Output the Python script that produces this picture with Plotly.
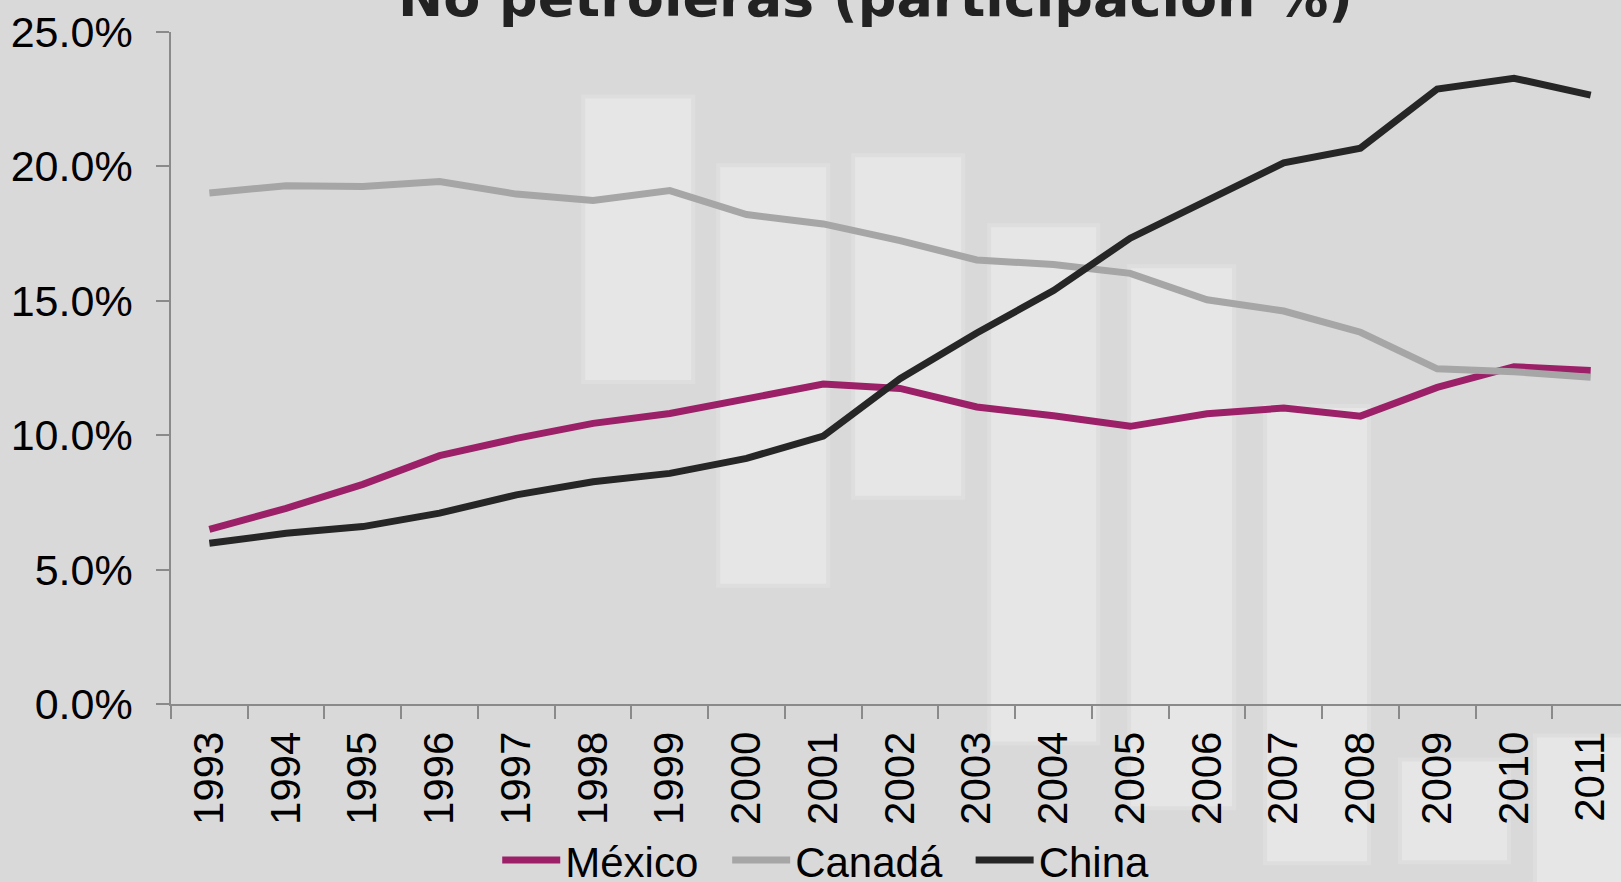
import plotly.graph_objects as go

years = [str(y) for y in range(1993, 2012)]
mexico = [6.5, 7.28, 8.17, 9.24, 9.88, 10.44, 10.81, 11.37, 11.9, 11.74, 11.05, 10.72, 10.33, 10.8, 11.01, 10.71, 11.78, 12.55, 12.41]
canada = [19.01, 19.28, 19.25, 19.44, 18.97, 18.73, 19.1, 18.21, 17.86, 17.24, 16.52, 16.35, 16.02, 15.04, 14.62, 13.83, 12.47, 12.36, 12.16]
china = [5.98, 6.35, 6.6, 7.1, 7.78, 8.27, 8.58, 9.14, 9.97, 12.1, 13.8, 15.38, 17.33, 18.7, 20.13, 20.68, 22.88, 23.28, 22.65]

series_names = ["México", "Canadá", "China"]
series_colors = ["#9B2068", "#A6A6A6", "#262626"]
title_text = "No petroleras (participación %)"

W, H = 1621, 882
L, T, R, B = 170.7, 31.5, 1621.0, 704.5

def px(X):
    return (X - L) / (R - L)

def py(Y):
    return (B - Y) / (B - T)

fig = go.Figure()
legends = ["legend", "legend2", "legend3"]
for name, vals, col, lg in zip(series_names, [mexico, canada, china], series_colors, legends):
    fig.add_trace(go.Scatter(x=years, y=vals, name=name, mode="lines",
                             line=dict(color=col, width=7), legend=lg))

# decorative background panels (page pixels)
panels = [
    (585, 98, 691, 380), (720, 167, 826, 584), (855, 157, 961, 496),
    (991, 227, 1096, 742), (1131, 268, 1232, 807), (1267, 408, 1367, 862),
    (1402, 762, 1507, 861), (1537, 738, 1650, 900),
]
shapes = []
for (x0, y0, x1, y1) in panels:
    shapes.append(dict(type="rect", xref="paper", yref="paper", layer="below",
                       x0=px(x0 - 4), x1=px(x1 + 4), y0=py(y1 + 4), y1=py(y0 - 4),
                       fillcolor="#dedede", line=dict(width=0)))
    shapes.append(dict(type="rect", xref="paper", yref="paper", layer="below",
                       x0=px(x0), x1=px(x1), y0=py(y1), y1=py(y0),
                       fillcolor="#e6e6e6", line=dict(width=0)))

ytickfont = dict(family="Liberation Sans, Arial, sans-serif", size=43, color="#000000")
xtickfont = dict(family="Liberation Sans, Arial, sans-serif", size=42, color="#000000")
legfont = dict(family="Liberation Sans, Arial, sans-serif", size=42, color="#000000")

leg_common = dict(orientation="h", xanchor="left", yanchor="top", y=py(827),
                  bgcolor="rgba(0,0,0,0)", borderwidth=0, font=legfont, itemwidth=58,
                  xref="paper", yref="paper")

fig.update_layout(
    width=W, height=H,
    margin=dict(l=L, r=W - R, t=T, b=H - B, autoexpand=False, pad=0),
    paper_bgcolor="#d9d9d9", plot_bgcolor="rgba(0,0,0,0)",
    shapes=shapes,
    showlegend=True,
    legend=dict(x=px(497), **leg_common),
    legend2=dict(x=px(727), **leg_common),
    legend3=dict(x=px(970.5), **leg_common),
    xaxis=dict(type="category", range=[-0.5, 18.395], tickson="boundaries",
               ticks="outside", ticklen=13, tickwidth=1.5, tickcolor="#8a8a8a",
               showline=True, linecolor="#8a8a8a", linewidth=1.5,
               showgrid=False, zeroline=False, tickangle=-90, tickfont=xtickfont,
               ticklabelstandoff=9, automargin=False),
    yaxis=dict(range=[0, 25], dtick=5, tick0=0, tickformat=".1f", ticksuffix="%",
               ticks="outside", ticklen=13, tickwidth=1.5, tickcolor="#8a8a8a",
               showline=True, linecolor="#8a8a8a", linewidth=1.5,
               showgrid=False, zeroline=False, tickfont=ytickfont,
               ticklabelstandoff=15, automargin=False),
    annotations=[dict(text="<b>" + title_text + "</b>", xref="paper", yref="paper",
                      x=px(875.5), y=py(-3), xanchor="center", yanchor="middle",
                      showarrow=False,
                      font=dict(family="DejaVu Sans, Verdana, sans-serif", size=54, color="#222222"))],
)

fig.write_html("out.html", config={"displayModeBar": False},
               post_script="document.body.style.margin='0';document.body.style.padding='0';document.body.style.overflow='hidden';")
